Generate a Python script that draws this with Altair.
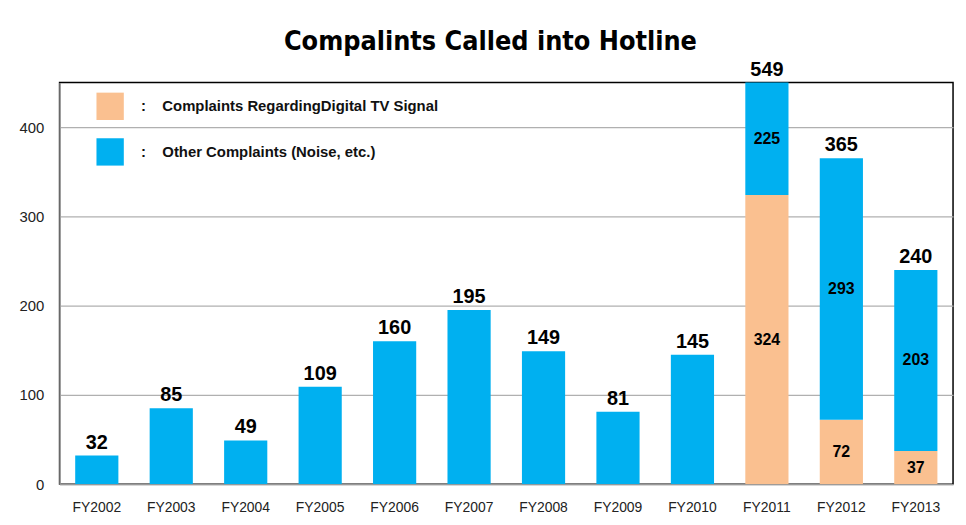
import altair as alt
import pandas as pd

years = ["FY2002", "FY2003", "FY2004", "FY2005", "FY2006", "FY2007",
         "FY2008", "FY2009", "FY2010", "FY2011", "FY2012", "FY2013"]
digital = [0, 0, 0, 0, 0, 0, 0, 0, 0, 324, 72, 37]
other = [32, 85, 49, 109, 160, 195, 149, 81, 145, 225, 293, 203]
totals = [32, 85, 49, 109, 160, 195, 149, 81, 145, 549, 365, 240]

S_DIG = "Complaints RegardingDigital TV Signal"
S_OTH = "Other Complaints (Noise, etc.)"
series = [S_DIG, S_OTH]
colors = ["#FAC090", "#00B0F0"]
y_max = 450

rows = []
for yr, d, o in zip(years, digital, other):
    rows.append({"year": yr, "series": S_DIG, "value": d, "ord": 0, "dig": d})
    rows.append({"year": yr, "series": S_OTH, "value": o, "ord": 1, "dig": d})
long_df = pd.DataFrame(rows)
tot_df = pd.DataFrame({"year": years, "total": totals})

LBL_FONT = "Liberation Sans"

x_enc = alt.X("year:N", sort=years, title=None,
              scale=alt.Scale(paddingInner=0.42, paddingOuter=0.21),
              axis=alt.Axis(labelAngle=0, ticks=False, labelPadding=17,
                            labelFontSize=14, labelFont=LBL_FONT, labelColor="#222",
                            domainColor="#999", domainWidth=1.5))
y_scale = alt.Scale(domain=[0, y_max], nice=False, zero=True)

base = alt.Chart(long_df).transform_stack(
    stack="value", groupby=["year"], as_=["y0", "y1"],
    sort=[alt.SortField("ord", order="ascending")]
)

bars = base.mark_bar(clip=True).encode(
    x=x_enc,
    y=alt.Y("y0:Q", scale=y_scale, title=None,
            axis=alt.Axis(values=[0, 100, 200, 300, 400], ticks=False, labelPadding=16,
                          labelFontSize=15, labelFont=LBL_FONT, labelColor="#222",
                          grid=True, gridColor="#b0b0b0", gridWidth=1.2,
                          domainColor="#999", domainWidth=1.5)),
    y2="y1:Q",
    color=alt.Color("series:N", scale=alt.Scale(domain=series, range=colors), title=None,
                    legend=alt.Legend(orient="none", legendX=37, legendY=10,
                                      symbolType="square", symbolSize=760,
                                      symbolStrokeWidth=0, symbolOpacity=1,
                                      rowPadding=18, labelOffset=17, padding=0,
                                      labelFont=LBL_FONT, labelFontSize=15,
                                      labelFontWeight="bold", labelColor="#111",
                                      labelLimit=500,
                                      labelExpr="':\u00a0\u00a0\u00a0\u00a0' + datum.label")),
    order=alt.Order("ord:Q"),
)

inner = base.transform_filter(
    "datum.value > 0 && datum.dig > 0"
).transform_calculate(
    mid=f"(datum.y0 + min(datum.y1, {y_max})) / 2"
).mark_text(font=LBL_FONT, fontSize=16, fontWeight="bold", color="#000").encode(
    x=alt.X("year:N", sort=years),
    y=alt.Y("mid:Q", scale=y_scale),
    text=alt.Text("value:Q"),
)

tot = alt.Chart(tot_df).transform_calculate(
    ty=f"min(datum.total, {y_max})"
).mark_text(font=LBL_FONT, fontSize=20, fontWeight="bold", color="#000",
            baseline="bottom", dy=-3).encode(
    x=alt.X("year:N", sort=years),
    y=alt.Y("ty:Q", scale=y_scale),
    text=alt.Text("total:Q"),
)

chart = alt.layer(bars, inner, tot).properties(
    width=901, height=405,
    autosize=alt.AutoSizeParams(type="none"),
    padding={"left": 52, "top": 73, "right": 5, "bottom": 30},
    title=alt.TitleParams("Compalints Called into Hotline", anchor="middle",
                          font="DejaVu Sans Condensed", fontSize=27, fontWeight="bold",
                          color="#000", offset=4, dx=-16),
).configure_view(stroke="#000", strokeWidth=1.5)

chart.save("out.html", embed_options={"renderer": "svg", "actions": False})
